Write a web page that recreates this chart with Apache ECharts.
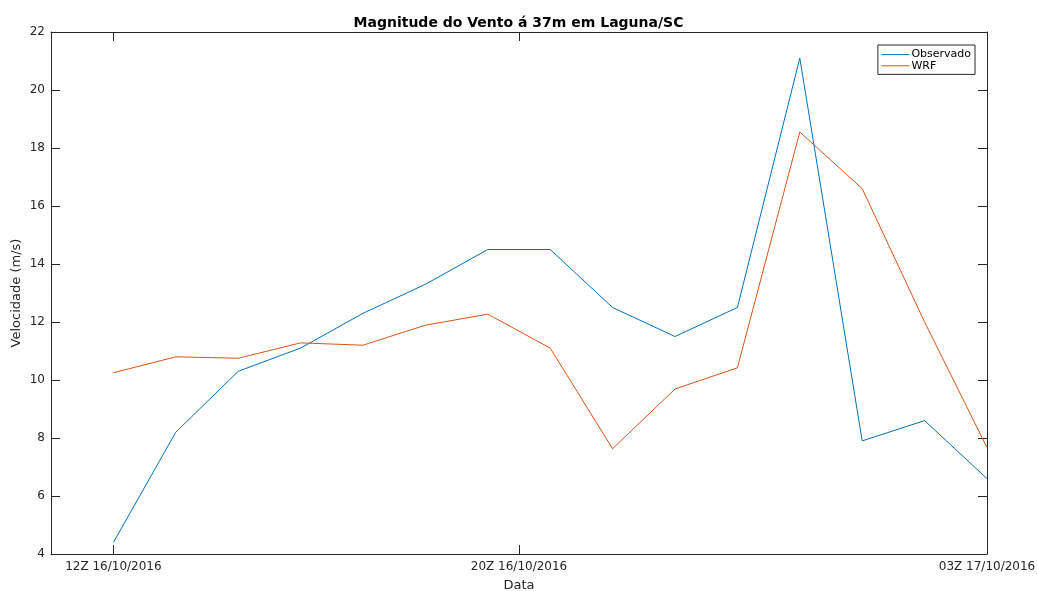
<!DOCTYPE html>
<html>
<head>
<meta charset="utf-8">
<script src="https://cdn.jsdelivr.net/npm/echarts@6/dist/echarts.min.js"></script>
<style>
html,body{margin:0;padding:0;background:#fff;}
#chart{width:1037px;height:591px;}
</style>
</head>
<body>
<div id="chart"></div>
<script>
// Data (hourly steps, index 0..14)
const stepIndex = [0,1,2,3,4,5,6,7,8,9,10,11,12,13,14];
const observado = [4.4, 8.2, 10.3, 11.1, 12.3, 13.3, 14.5, 14.5, 12.5, 11.5, 12.5, 21.1, 7.9, 8.6, 6.6];
const wrf = [10.25, 10.8, 10.75, 11.28, 11.2, 11.89, 12.27, 11.1, 7.63, 9.69, 10.42, 18.55, 16.6, 12.0, 7.67];
const tickPositions = [0, 6.5, 14];
const tickLabels = ['12Z 16/10/2016', '20Z 16/10/2016', '03Z 17/10/2016'];
const xRange = [-1, 14];

const axisColor = '#262626';
const fontFam = 'DejaVu Sans, sans-serif';

const chart = echarts.init(document.getElementById('chart'));
const grid = {left: 51, right: 50, top: 32, bottom: 37, outerBoundsMode: 'none', containLabel: false};

function labelFor(v) {
  for (let i = 0; i < tickPositions.length; i++) {
    if (Math.abs(tickPositions[i] - v) < 1e-6) return tickLabels[i];
  }
  return '';
}

chart.setOption({
  backgroundColor: '#ffffff',
  animation: false,
  title: {
    text: 'Magnitude do Vento á 37m em Laguna/SC',
    left: 'center', top: 11,
    textStyle: {fontFamily: fontFam, fontSize: 14, fontWeight: 'bold', color: '#000'}
  },
  legend: {
    orient: 'vertical',
    right: 62, top: 45,
    padding: [4, 4, 3, 3],
    itemGap: 0,
    itemWidth: 28, itemHeight: 14,
    borderColor: axisColor, borderWidth: 1,
    backgroundColor: '#fff',
    itemStyle: {opacity: 0},
    lineStyle: {width: 1},
    textStyle: {fontFamily: fontFam, fontSize: 11, color: '#000', padding: [0, 0, 0, -3]},
    data: ['Observado', 'WRF']
  },
  grid: grid,
  xAxis: [{
    type: 'value', min: xRange[0], max: xRange[1],
    name: 'Data', nameLocation: 'middle', nameGap: 25, nameMoveOverlap: false,
    nameTextStyle: {fontFamily: fontFam, fontSize: 13, color: axisColor},
    axisLine: {show: true, onZero: false, lineStyle: {color: axisColor, width: 1}},
    axisTick: {show: true, inside: true, length: 9, customValues: tickPositions, lineStyle: {color: axisColor}},
    axisLabel: {show: true, customValues: tickPositions, margin: 7, formatter: labelFor,
      fontFamily: fontFam, fontSize: 12, color: axisColor, showMaxLabel: true, showMinLabel: true, hideOverlap: false},
    splitLine: {show: false}
  }, {
    type: 'value', min: xRange[0], max: xRange[1], position: 'top',
    axisLine: {show: true, onZero: false, lineStyle: {color: axisColor, width: 1}},
    axisTick: {show: true, inside: true, length: 9, customValues: tickPositions, lineStyle: {color: axisColor}},
    axisLabel: {show: false},
    splitLine: {show: false}
  }],
  yAxis: [{
    type: 'value', min: 4, max: 22, interval: 2,
    name: 'Velocidade (m/s)', nameLocation: 'middle', nameGap: 28, nameMoveOverlap: false,
    nameTextStyle: {fontFamily: fontFam, fontSize: 13, color: axisColor},
    axisLine: {show: true, onZero: false, lineStyle: {color: axisColor, width: 1}},
    axisTick: {show: true, inside: true, length: 9, lineStyle: {color: axisColor}},
    axisLabel: {fontFamily: fontFam, fontSize: 12, color: axisColor, margin: 6},
    splitLine: {show: false}
  }, {
    type: 'value', min: 4, max: 22, interval: 2, position: 'right',
    axisLine: {show: true, onZero: false, lineStyle: {color: axisColor, width: 1}},
    axisTick: {show: true, inside: true, length: 9, lineStyle: {color: axisColor}},
    axisLabel: {show: false},
    splitLine: {show: false}
  }],
  series: [{
    name: 'Observado', type: 'line', symbol: 'none',
    data: stepIndex.map((x, i) => [x, observado[i]]),
    lineStyle: {color: '#0072BD', width: 1}, itemStyle: {color: '#0072BD'}
  }, {
    name: 'WRF', type: 'line', symbol: 'none',
    data: stepIndex.map((x, i) => [x, wrf[i]]),
    lineStyle: {color: '#D95319', width: 1}, itemStyle: {color: '#D95319'}
  }]
});
</script>
</body>
</html>
